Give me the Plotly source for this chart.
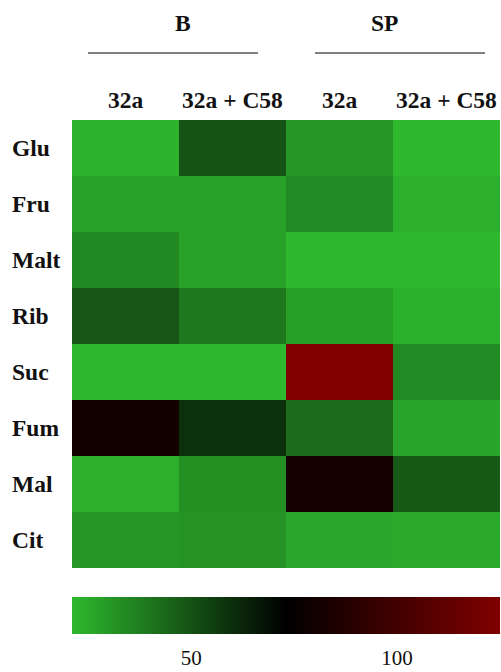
import plotly.graph_objects as go

columns = ["B 32a", "B 32a + C58", "SP 32a", "SP 32a + C58"]
column_labels = ["32a", "32a + C58", "32a", "32a + C58"]
rows = ["Glu", "Fru", "Malt", "Rib", "Suc", "Fum", "Mal", "Cit"]
groups = ["B", "SP"]

values = [
    [22.6, 49.6, 30.4, 21.0],
    [27.5, 27.5, 34.0, 23.6],
    [34.5, 27.5, 21.0, 21.0],
    [49.0, 38.7, 27.8, 23.0],
    [21.0, 21.0, 125.0, 34.0],
    [80.3, 59.5, 42.3, 26.2],
    [23.6, 32.4, 81.3, 47.5],
    [30.4, 31.4, 25.7, 25.2],
]
cbar_ticks = [50, 100]

FONT = "Liberation Serif, Times New Roman, serif"
FS = 23.5
W, H = 501, 672
ML, MR, MT, MB = 72, 1, 120, 104
PW = W - ML - MR
PH = H - MT - MB

fig = go.Figure(go.Heatmap(
    z=values, x=columns, y=rows,
    colorscale=[[0, "#2eb82e"], [0.5, "#000000"], [1, "#800000"]],
    zmin=21, zmax=125,
    colorbar=dict(
        orientation="h", x=0.5, xanchor="center",
        y=-29 / PH, yanchor="top",
        lenmode="pixels", len=PW, thickness=37,
        xpad=0, ypad=0, outlinewidth=0, borderwidth=0,
        tickvals=cbar_ticks, ticktext=[str(t) for t in cbar_ticks],
        ticks="outside", ticklen=6, tickcolor="rgba(0,0,0,0)",
        tickfont=dict(family=FONT, size=21, color="#111"),
    ),
    hoverinfo="skip",
))

annotations = []
for r in rows:
    annotations.append(dict(x=0, xref="paper", y=r, yref="y", xshift=-62,
                            xanchor="left", text=f"<b>{r}</b>", showarrow=False,
                            font=dict(family=FONT, size=FS, color="#111")))
for c, lab in zip(columns, column_labels):
    annotations.append(dict(x=c, xref="x", y=1, yref="paper", yshift=20,
                            yanchor="middle", text=f"<b>{lab}</b>", showarrow=False,
                            font=dict(family=FONT, size=FS, color="#111")))

shapes = []
group_spans = [(88, 258), (315, 485)]
for g, (a, b) in zip(groups, group_spans):
    xa = (a - ML) / PW
    xb = (b - ML) / PW
    yl = (MT + PH - 53) / PH
    shapes.append(dict(type="line", xref="paper", yref="paper", x0=xa, x1=xb,
                       y0=yl, y1=yl, line=dict(color="#555", width=1.5)))
    annotations.append(dict(x=(xa + xb) / 2, xref="paper", y=(MT + PH - 23) / PH,
                            yref="paper", yanchor="middle", text=f"<b>{g}</b>",
                            showarrow=False,
                            font=dict(family=FONT, size=FS, color="#111")))

fig.update_layout(
    width=W, height=H,
    margin=dict(l=ML, r=MR, t=MT, b=MB, autoexpand=False),
    paper_bgcolor="white", plot_bgcolor="white",
    xaxis=dict(showticklabels=False, ticks="", showgrid=False, zeroline=False),
    yaxis=dict(showticklabels=False, ticks="", showgrid=False, zeroline=False,
               autorange="reversed"),
    annotations=annotations, shapes=shapes,
    font=dict(family=FONT),
)

fig.write_html("out.html", config={"displayModeBar": False},
               post_script="document.body.style.margin='0';document.body.style.overflow='hidden';")
